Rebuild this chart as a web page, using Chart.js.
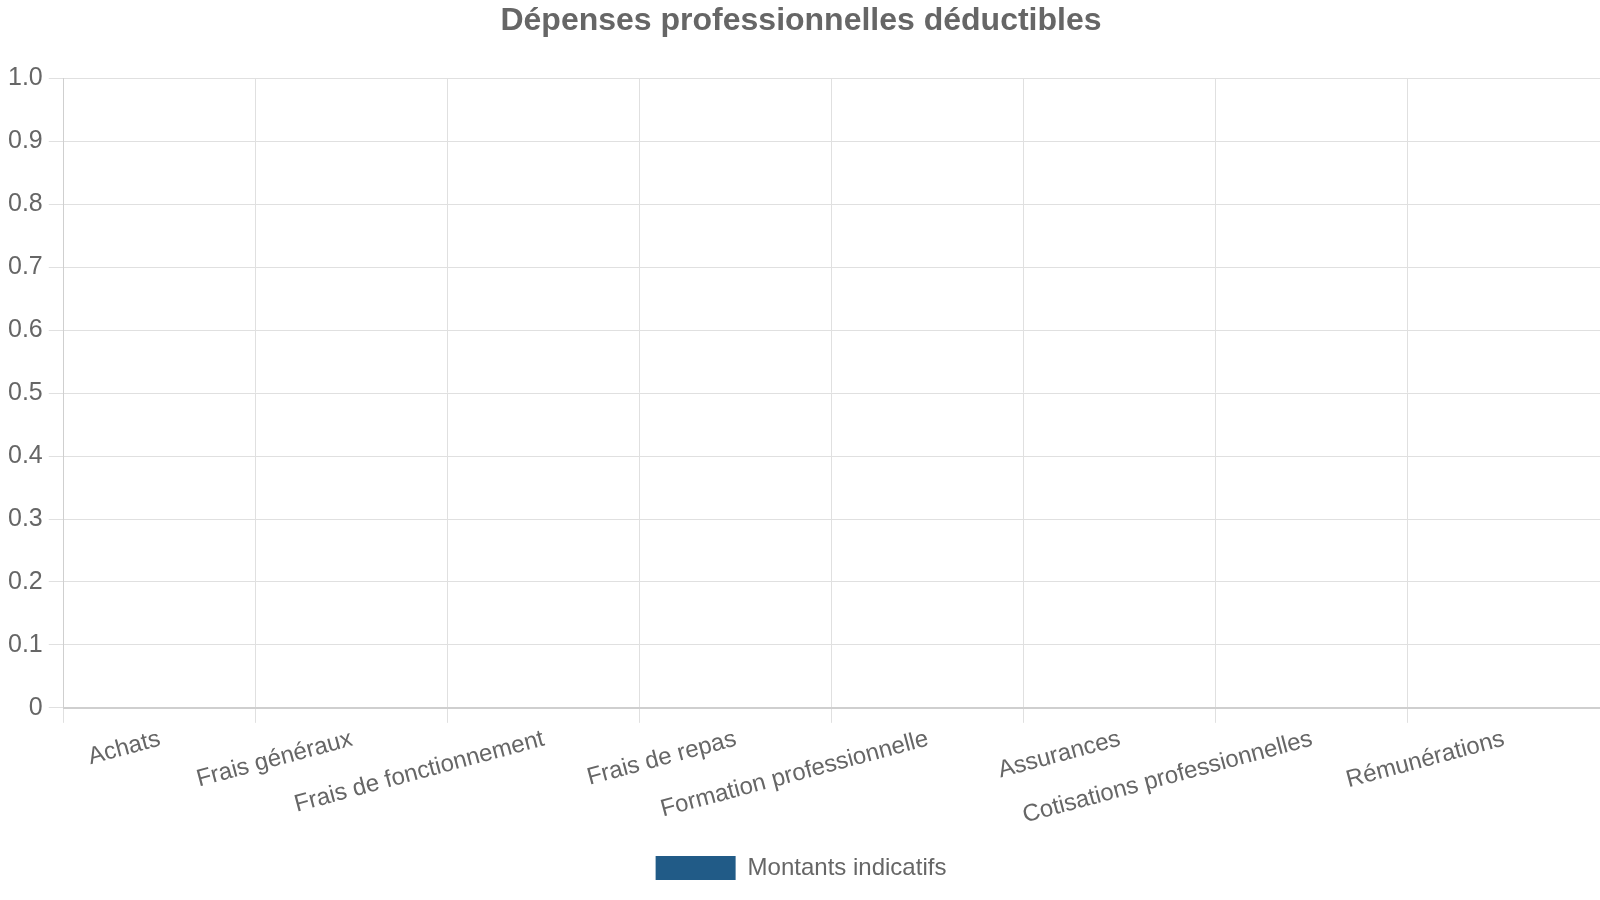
<!DOCTYPE html>
<html>
<head>
<meta charset="utf-8">
<script src="https://cdn.jsdelivr.net/npm/chart.js@4"></script>
<style>
  html, body { margin: 0; padding: 0; background: #fff; }
  #wrap { width: 1600px; height: 900px; }
</style>
</head>
<body>
<div id="wrap"><canvas id="chart"></canvas></div>
<script>
// données du graphique
const categories = [
  'Achats',
  'Frais généraux',
  'Frais de fonctionnement',
  'Frais de repas',
  'Formation professionnelle',
  'Assurances',
  'Cotisations professionnelles',
  'Rémunérations'
];
const montants = [0, 0, 0, 0, 0, 0, 0, 0]; // aucune barre visible
const serieLabel = 'Montants indicatifs';
const titre = 'Dépenses professionnelles déductibles';

Chart.defaults.font.family = "'Liberation Sans', Arial, sans-serif";
Chart.defaults.color = '#666';

new Chart(document.getElementById('chart'), {
  type: 'bar',
  data: {
    labels: categories,
    datasets: [{
      label: serieLabel,
      data: montants,
      backgroundColor: '#215b87',
      borderWidth: 0
    }]
  },
  options: {
    responsive: true,
    maintainAspectRatio: false,
    animation: false,
    layout: { padding: { left: 2, right: 0, top: 0, bottom: 10 } },
    plugins: {
      title: {
        display: true,
        text: titre,
        color: '#666',
        font: { size: 32, weight: 'bold' },
        padding: { top: 2, bottom: 38 }
      },
      legend: {
        position: 'bottom',
        labels: {
          boxWidth: 80,
          boxHeight: 24,
          font: { size: 24 },
          padding: 24
        }
      },
      tooltip: { enabled: false }
    },
    scales: {
      x: {
        grid: { color: '#e0e0e0', tickLength: 15 },
        border: { color: '#cfcfcf', width: 2 },
        ticks: { font: { size: 24 }, padding: 2, minRotation: 15, maxRotation: 15 }
      },
      y: {
        min: 0,
        max: 1,
        grid: { color: '#e0e0e0', tickLength: 15 },
        border: { color: '#cfcfcf' },
        ticks: { stepSize: 0.1, font: { size: 25 }, padding: 6 }
      }
    }
  }
});
</script>
</body>
</html>
